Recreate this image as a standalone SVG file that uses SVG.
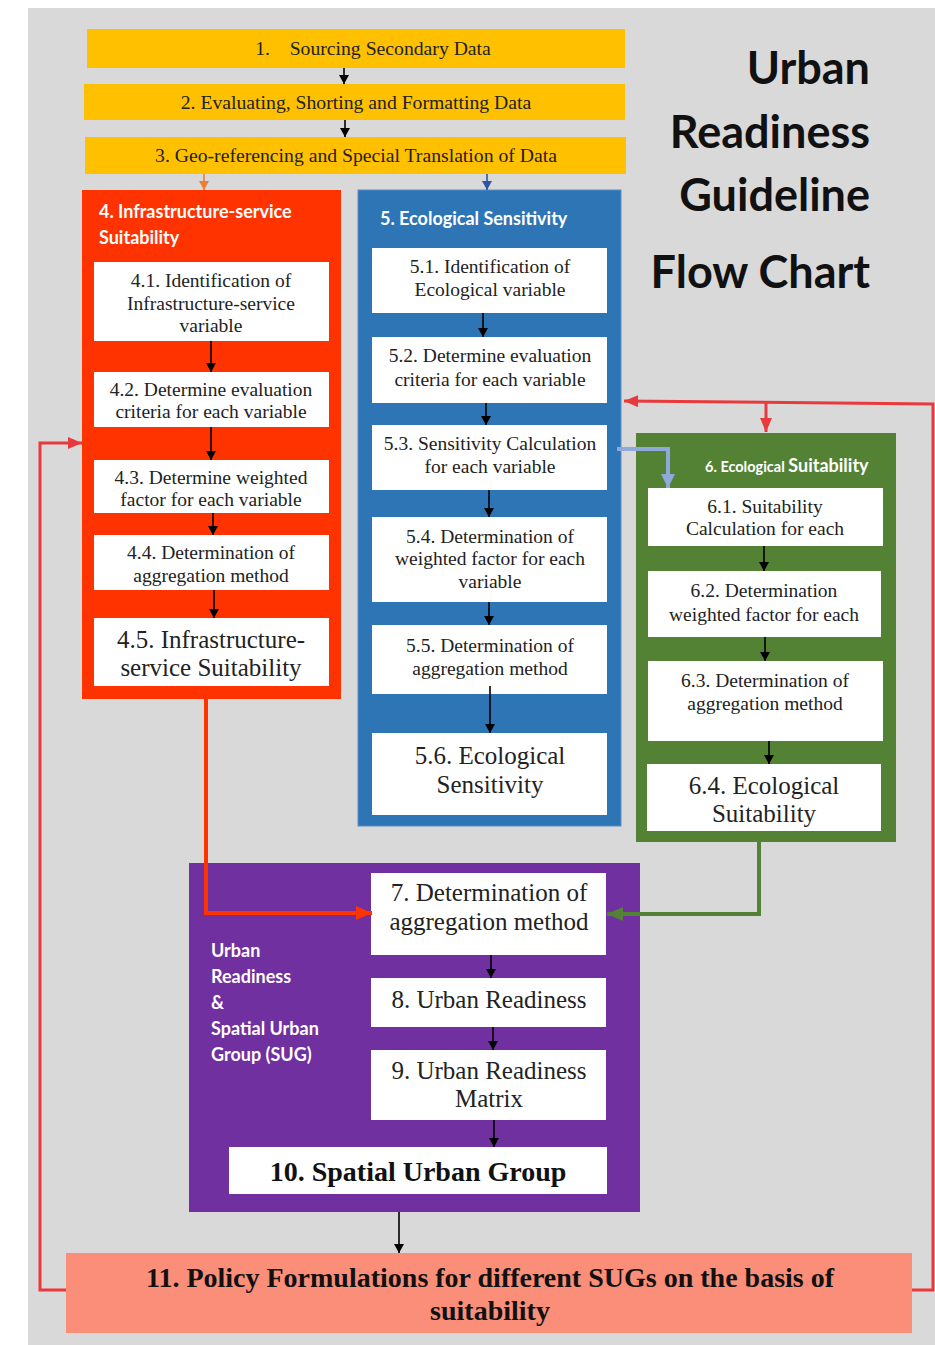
<svg xmlns="http://www.w3.org/2000/svg" width="935" height="1345" viewBox="0 0 935 1345">
<defs>
<style>
.box{fill:#ffffff}
.t{font-family:"Liberation Serif","Times New Roman",serif;font-size:19.5px;fill:#222;text-anchor:middle}
.ty{font-family:"Liberation Serif","Times New Roman",serif;font-size:19.7px;fill:#222;text-anchor:middle}
.tl{font-family:"Liberation Serif","Times New Roman",serif;font-size:25px;fill:#222;text-anchor:middle}
.hd{font-family:Lato,"Open Sans",sans-serif;font-weight:bold;font-size:18px;fill:#ffffff}
.title{font-family:Lato,"Liberation Sans",sans-serif;font-weight:bold;font-size:45px;fill:#111;text-anchor:end}
.ab{stroke:#000;stroke-width:1.6;fill:none}
</style>
<marker id="mb" markerWidth="9" markerHeight="10" refX="9" refY="5" orient="auto" markerUnits="userSpaceOnUse"><path d="M0,0 L9,5 L0,10 z" fill="#000"/></marker>
<marker id="mr" markerWidth="14" markerHeight="12" refX="14" refY="6" orient="auto" markerUnits="userSpaceOnUse"><path d="M0,0 L14,6 L0,12 z" fill="#e8393c"/></marker>
<marker id="mo" markerWidth="16" markerHeight="14" refX="16" refY="7" orient="auto" markerUnits="userSpaceOnUse"><path d="M0,0 L16,7 L0,14 z" fill="#ff3300"/></marker>
<marker id="mg" markerWidth="16" markerHeight="14" refX="16" refY="7" orient="auto" markerUnits="userSpaceOnUse"><path d="M0,0 L16,7 L0,14 z" fill="#548235"/></marker>
<marker id="ml" markerWidth="14" markerHeight="14" refX="14" refY="7" orient="auto" markerUnits="userSpaceOnUse"><path d="M0,0 L14,7 L0,14 z" fill="#8eaadb"/></marker>
<marker id="mor" markerWidth="9" markerHeight="10" refX="9" refY="5" orient="auto" markerUnits="userSpaceOnUse"><path d="M0,0 L9,5 L0,10 z" fill="#ed7d31"/></marker>
<marker id="mbl" markerWidth="9" markerHeight="10" refX="9" refY="5" orient="auto" markerUnits="userSpaceOnUse"><path d="M0,0 L9,5 L0,10 z" fill="#2f55a4"/></marker>
</defs>
<rect x="0" y="0" width="935" height="1345" fill="#ffffff"/>
<rect x="28" y="8" width="907" height="1337" fill="#d9d9d9"/>

<g id="title">
<text class="title" x="870" y="84">Urban</text>
<text class="title" x="870" y="148">Readiness</text>
<text class="title" x="870" y="211">Guideline</text>
<text class="title" x="870" y="288">Flow Chart</text>
</g>

<g id="n1"><rect x="87" y="29" width="538" height="39" fill="#ffc000"/><text class="ty" x="373" y="55" xml:space="preserve">1.    Sourcing Secondary Data</text></g>
<g id="n2"><rect x="84" y="84" width="541" height="36" fill="#ffc000"/><text class="ty" x="356" y="109">2. Evaluating, Shorting and Formatting Data</text></g>
<g id="n3"><rect x="85" y="137" width="541" height="37" fill="#ffc000"/><text class="ty" x="356" y="162">3. Geo-referencing and Special Translation of Data</text></g>

<g id="n4">
<rect x="82" y="190" width="259" height="509" fill="#ff3300"/>
<text class="hd" x="99" y="218">4. Infrastructure-service</text>
<text class="hd" x="99" y="244">Suitability</text>
</g>
<g id="n4-1"><rect class="box" x="94" y="262" width="235" height="79"/><text class="t" x="211" y="287">4.1. Identification of</text><text class="t" x="211" y="310">Infrastructure-service</text><text class="t" x="211" y="332">variable</text></g>
<g id="n4-2"><rect class="box" x="94" y="372" width="235" height="55"/><text class="t" x="211" y="396">4.2. Determine evaluation</text><text class="t" x="211" y="418">criteria for each variable</text></g>
<g id="n4-3"><rect class="box" x="94" y="460" width="235" height="53"/><text class="t" x="211" y="484">4.3. Determine weighted</text><text class="t" x="211" y="506">factor for each variable</text></g>
<g id="n4-4"><rect class="box" x="94" y="535" width="235" height="55"/><text class="t" x="211" y="559">4.4. Determination of</text><text class="t" x="211" y="582">aggregation method</text></g>
<g id="n4-5"><rect class="box" x="94" y="618" width="235" height="68"/><text class="tl" x="211" y="648">4.5. Infrastructure-</text><text class="tl" x="211" y="676">service Suitability</text></g>

<g id="n5">
<rect x="358" y="190" width="263" height="636" fill="#2e75b6" stroke="#5a8fc4" stroke-width="1"/>
<text class="hd" x="380" y="225">5. Ecological Sensitivity</text>
</g>
<g id="n5-1"><rect class="box" x="372" y="248" width="235" height="65"/><text class="t" x="490" y="273">5.1. Identification of</text><text class="t" x="490" y="296">Ecological variable</text></g>
<g id="n5-2"><rect class="box" x="372" y="337" width="235" height="66"/><text class="t" x="490" y="362">5.2. Determine evaluation</text><text class="t" x="490" y="386">criteria for each variable</text></g>
<g id="n5-3"><rect class="box" x="372" y="425" width="235" height="65"/><text class="t" x="490" y="450">5.3. Sensitivity Calculation</text><text class="t" x="490" y="473">for each variable</text></g>
<g id="n5-4"><rect class="box" x="372" y="517" width="235" height="85"/><text class="t" x="490" y="543">5.4. Determination of</text><text class="t" x="490" y="565">weighted factor for each</text><text class="t" x="490" y="588">variable</text></g>
<g id="n5-5"><rect class="box" x="372" y="625" width="235" height="69"/><text class="t" x="490" y="652">5.5. Determination of</text><text class="t" x="490" y="675">aggregation method</text></g>
<g id="n5-6"><rect class="box" x="372" y="733" width="235" height="82"/><text class="tl" x="490" y="764">5.6. Ecological</text><text class="tl" x="490" y="793">Sensitivity</text></g>

<g id="n6">
<rect x="636" y="433" width="260" height="409" fill="#548235"/>
<text class="hd" x="705" y="472"><tspan font-size="14.5">6. Ecological </tspan><tspan>Suitability</tspan></text>
</g>
<g id="n6-1"><rect class="box" x="648" y="488" width="235" height="58"/><text class="t" x="765" y="513">6.1. Suitability</text><text class="t" x="765" y="535">Calculation for each</text></g>
<g id="n6-2"><rect class="box" x="648" y="571" width="233" height="66"/><text class="t" x="764" y="597">6.2. Determination</text><text class="t" x="764" y="621">weighted factor for each</text></g>
<g id="n6-3"><rect class="box" x="648" y="661" width="235" height="80"/><text class="t" x="765" y="687">6.3. Determination of</text><text class="t" x="765" y="710">aggregation method</text></g>
<g id="n6-4"><rect class="box" x="647" y="764" width="234" height="67"/><text class="tl" x="764" y="794">6.4. Ecological</text><text class="tl" x="764" y="822">Suitability</text></g>

<g id="n-sug">
<rect x="189" y="863" width="451" height="349" fill="#7030a0"/>
<text class="hd" x="211" y="957">Urban</text>
<text class="hd" x="211" y="983">Readiness</text>
<text class="hd" x="211" y="1009">&amp;</text>
<text class="hd" x="211" y="1035">Spatial Urban</text>
<text class="hd" x="211" y="1061">Group (SUG)</text>
</g>
<g id="n7"><rect class="box" x="371" y="873" width="235" height="82"/><text class="tl" x="489" y="901">7. Determination of</text><text class="tl" x="489" y="930">aggregation method</text></g>
<g id="n8"><rect class="box" x="371" y="978" width="235" height="49"/><text class="tl" x="489" y="1008">8. Urban Readiness</text></g>
<g id="n9"><rect class="box" x="371" y="1050" width="235" height="70"/><text class="tl" x="489" y="1079">9. Urban Readiness</text><text class="tl" x="489" y="1107">Matrix</text></g>
<g id="n10"><rect class="box" x="229" y="1147" width="378" height="47"/><text x="418" y="1181" font-family="'Liberation Serif','Times New Roman',serif" font-size="28" font-weight="bold" fill="#111" text-anchor="middle">10. Spatial Urban Group</text></g>
<g id="n11"><rect x="66" y="1253" width="846" height="80" fill="#fa8e78"/>
<text x="490" y="1287" font-family="'Liberation Serif','Times New Roman',serif" font-size="28" font-weight="bold" fill="#111" text-anchor="middle">11. Policy Formulations for different SUGs on the basis of</text>
<text x="490" y="1320" font-family="'Liberation Serif','Times New Roman',serif" font-size="28" font-weight="bold" fill="#111" text-anchor="middle">suitability</text></g>

<g id="connectors">
<line class="ab" x1="344" y1="68" x2="344" y2="84" marker-end="url(#mb)"/>
<line class="ab" x1="345" y1="120" x2="345" y2="137" marker-end="url(#mb)"/>
<line x1="204" y1="174" x2="204" y2="190" stroke="#ed7d31" stroke-width="1.6" marker-end="url(#mor)"/>
<line x1="487" y1="174" x2="487" y2="190" stroke="#2f55a4" stroke-width="1.6" marker-end="url(#mbl)"/>
<line class="ab" x1="211" y1="341" x2="211" y2="372" marker-end="url(#mb)"/>
<line class="ab" x1="211" y1="427" x2="211" y2="460" marker-end="url(#mb)"/>
<line class="ab" x1="213" y1="513" x2="213" y2="535" marker-end="url(#mb)"/>
<line class="ab" x1="214" y1="590" x2="214" y2="618" marker-end="url(#mb)"/>
<line class="ab" x1="483" y1="313" x2="483" y2="337" marker-end="url(#mb)"/>
<line class="ab" x1="486" y1="403" x2="486" y2="425" marker-end="url(#mb)"/>
<line class="ab" x1="489" y1="490" x2="489" y2="517" marker-end="url(#mb)"/>
<line class="ab" x1="489" y1="602" x2="489" y2="625" marker-end="url(#mb)"/>
<line class="ab" x1="490" y1="686" x2="490" y2="733" marker-end="url(#mb)"/>
<line class="ab" x1="764" y1="546" x2="764" y2="571" marker-end="url(#mb)"/>
<line class="ab" x1="765" y1="637" x2="765" y2="661" marker-end="url(#mb)"/>
<line class="ab" x1="769" y1="741" x2="769" y2="764" marker-end="url(#mb)"/>
<line class="ab" x1="491" y1="955" x2="491" y2="978" marker-end="url(#mb)"/>
<line class="ab" x1="493" y1="1027" x2="493" y2="1050" marker-end="url(#mb)"/>
<line class="ab" x1="494" y1="1120" x2="494" y2="1147" marker-end="url(#mb)"/>
<line class="ab" x1="399" y1="1212" x2="399" y2="1253" marker-end="url(#mb)"/>
<path d="M617,449 H668 V488" fill="none" stroke="#8eaadb" stroke-width="4" marker-end="url(#ml)"/>
<path d="M912,1290 H933 V404 L624,401" fill="none" stroke="#e8393c" stroke-width="3" marker-end="url(#mr)"/>
<path d="M766,402 V432" fill="none" stroke="#e8393c" stroke-width="3" marker-end="url(#mr)"/>
<path d="M66,1290 H40 V443 H82" fill="none" stroke="#e8393c" stroke-width="3" marker-end="url(#mr)"/>
<path d="M206,699 V913 H372" fill="none" stroke="#ff3300" stroke-width="4" marker-end="url(#mo)"/>
<path d="M759,842 V914 H607" fill="none" stroke="#548235" stroke-width="4" marker-end="url(#mg)"/>
</g>
</svg>
